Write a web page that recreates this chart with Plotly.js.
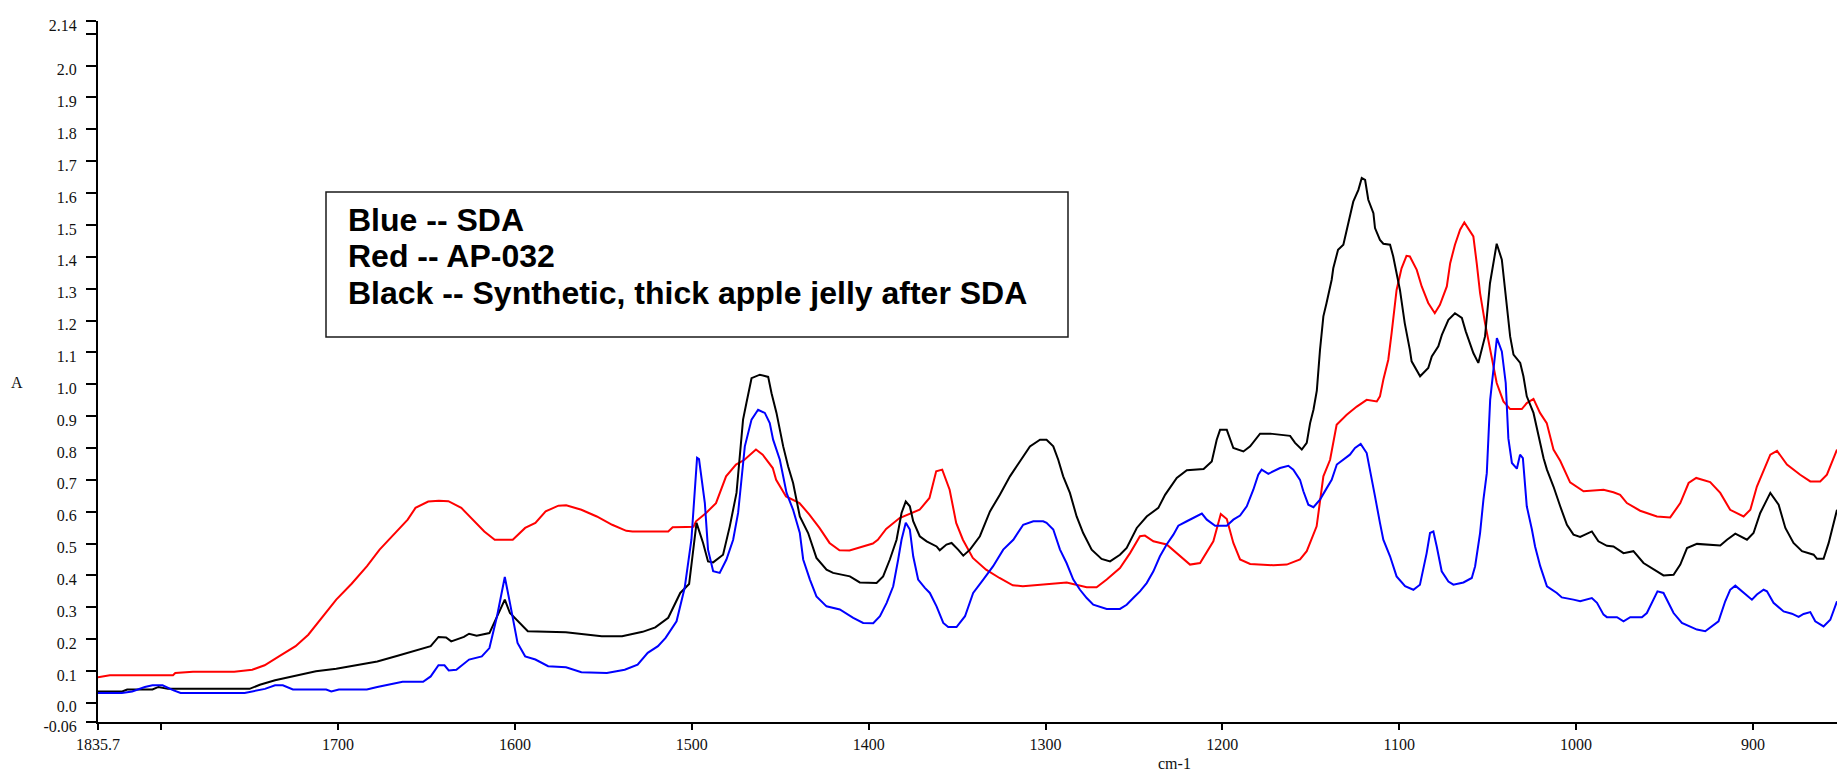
<!DOCTYPE html>
<html>
<head>
<meta charset="utf-8">
<script src="https://cdn.plot.ly/plotly-3.0.1.min.js"></script>
<style>
  html, body { margin: 0; padding: 0; background: #fff; }
  #chart { width: 1847px; height: 775px; }
</style>
</head>
<body>
<div id="chart"></div>
<script>
// ---------- data (wavenumber cm-1, absorbance A) ----------
const blueWavenumber = [1835.7,1822.2,1816.4,1809.2,1804.9,1799.2,1793.3,1789,1752.8,1748.5,1741.3,1735.6,1731.2,1725.5,1706.7,1703.8,1699.5,1683.7,1677.8,1663.5,1651.9,1647.6,1643.2,1639.8,1637.4,1633.1,1628.8,1625.9,1618.7,1614.4,1610.1,1605.7,1602.8,1598.5,1594.2,1588.4,1581.2,1571.1,1562.4,1548,1537.9,1530.6,1524.9,1519.1,1514.8,1508.6,1504,1500.2,1497,1495.9,1492.6,1490.8,1487.9,1484.2,1480.4,1476.6,1473.8,1471.9,1470,1466.2,1462.5,1458.7,1455.9,1454,1450.2,1446.4,1442.7,1438.9,1437,1433.2,1429.5,1423.8,1416.3,1408.7,1403.1,1397.4,1393.6,1389.8,1386.1,1383.3,1381.4,1379,1376.7,1374.8,1372,1368.2,1365.4,1361.6,1357.8,1355,1350.3,1345.5,1340.9,1335.2,1329.6,1323.9,1318.2,1312.6,1306.9,1301.3,1299.4,1295.6,1291.8,1288.1,1284.3,1280.5,1276.7,1273,1265.4,1257.9,1254.1,1250.4,1246.6,1242.8,1239,1235.3,1231.5,1227.7,1224.9,1220.1,1214.5,1211.6,1208.8,1204.1,1197.5,1193.8,1190,1186.2,1182.5,1179.7,1177.8,1174,1167.4,1162.7,1159.9,1156.1,1154.2,1151.4,1148.5,1144.8,1141,1138.2,1135.3,1131.6,1127.9,1125,1121.8,1118.4,1116.5,1113.7,1110.9,1109,1105.2,1101.5,1096.7,1092,1088.3,1084.5,1082.6,1080.7,1078.8,1076,1072.2,1069.4,1063.7,1059,1057.1,1054.3,1052.4,1050.5,1048.6,1044.8,1042,1039.8,1038.3,1036.3,1033.5,1031.7,1030.1,1027.9,1025,1023.2,1020.3,1016.5,1010.9,1008.1,1001.5,997.7,991.1,988.2,984.5,982.6,976.9,973.2,969.4,962.8,960,957.2,954,950.6,947.8,944.9,940.2,935.5,931.7,927,923.2,919.5,915.7,912.9,910,907.2,900.6,897.8,894,892.1,888.4,882.7,878,874.2,871.4,867.6,864.8,860.1,856.3,852.5];
const blueAbsorbance = [0.031,0.031,0.036,0.050,0.055,0.055,0.040,0.031,0.031,0.036,0.044,0.055,0.055,0.042,0.042,0.036,0.042,0.042,0.050,0.066,0.066,0.083,0.118,0.118,0.102,0.104,0.123,0.136,0.146,0.172,0.272,0.395,0.314,0.188,0.146,0.136,0.115,0.112,0.096,0.094,0.104,0.120,0.157,0.178,0.204,0.256,0.361,0.512,0.769,0.765,0.627,0.481,0.413,0.408,0.450,0.512,0.596,0.700,0.805,0.889,0.920,0.910,0.878,0.826,0.763,0.659,0.606,0.533,0.450,0.387,0.334,0.303,0.293,0.267,0.251,0.250,0.272,0.314,0.366,0.450,0.512,0.565,0.544,0.460,0.387,0.361,0.345,0.303,0.251,0.238,0.238,0.272,0.345,0.387,0.429,0.481,0.512,0.559,0.570,0.570,0.565,0.544,0.481,0.439,0.387,0.355,0.329,0.308,0.295,0.295,0.308,0.329,0.350,0.376,0.413,0.460,0.497,0.528,0.556,0.570,0.585,0.594,0.575,0.556,0.556,0.575,0.588,0.617,0.669,0.716,0.732,0.719,0.737,0.744,0.732,0.700,0.664,0.622,0.614,0.638,0.674,0.700,0.748,0.763,0.779,0.800,0.813,0.784,0.732,0.648,0.565,0.512,0.460,0.397,0.366,0.355,0.371,0.470,0.533,0.538,0.491,0.413,0.381,0.371,0.378,0.392,0.429,0.533,0.638,0.721,0.951,1.145,1.103,1.004,0.830,0.753,0.735,0.779,0.768,0.617,0.544,0.491,0.429,0.366,0.345,0.331,0.324,0.319,0.329,0.314,0.277,0.269,0.269,0.256,0.269,0.269,0.282,0.314,0.350,0.345,0.314,0.282,0.251,0.238,0.230,0.225,0.240,0.256,0.319,0.355,0.368,0.355,0.324,0.340,0.355,0.350,0.314,0.287,0.280,0.270,0.279,0.285,0.256,0.240,0.261,0.319];

const redWavenumber = [1835.7,1829,1793.3,1792,1782,1758.7,1748.5,1741.5,1732.7,1724,1716.8,1709.6,1701,1692.3,1683.6,1676.5,1667.8,1660.6,1656.2,1649,1643,1637.6,1630.3,1623,1617.3,1611.4,1601.2,1594.2,1588.4,1582.6,1575.4,1571,1562.4,1553.7,1545,1537,1533.5,1513.3,1510.8,1503.2,1499,1497.6,1491.9,1486.3,1480.6,1475,1470.2,1463.7,1459.9,1454.2,1452.3,1446.7,1439.1,1433.5,1427.8,1422.1,1416.5,1410.8,1403.3,1397.6,1394.8,1390.1,1382.5,1375,1371.2,1365.6,1361.8,1358.4,1354.2,1350.5,1346.7,1341.1,1333.6,1326,1318.5,1312.8,1303,1295.8,1288,1276.7,1271.1,1265.4,1257.9,1252.2,1246.6,1243.8,1239,1231.5,1224,1218.3,1212.6,1205.1,1200.9,1197.5,1193.8,1190,1184.3,1171.2,1163.6,1156.1,1152.3,1146.7,1142.9,1139.1,1135.4,1129.7,1124,1118.4,1112.7,1110.9,1109,1106.2,1104.3,1101.5,1098.7,1095.9,1094,1090.1,1087.3,1083.6,1079.9,1077,1073.1,1071.2,1068.5,1065.6,1063.2,1058.1,1056.2,1054.3,1051.5,1047.7,1044.9,1041.1,1037.3,1030.7,1027.9,1024.1,1020.4,1016.6,1014.7,1012.8,1009,1003.4,995.8,988.2,984.5,978.9,975.1,971.3,963.8,954.3,946.8,941.1,936.4,932.1,924.2,918.5,912.9,905.3,901.5,897.8,894,890.2,886.4,880.8,873.3,867.6,862,858.2,852.5];
const redAbsorbance = [0.080,0.087,0.087,0.094,0.098,0.098,0.104,0.118,0.148,0.178,0.214,0.263,0.324,0.374,0.429,0.481,0.533,0.575,0.612,0.632,0.634,0.633,0.612,0.570,0.538,0.512,0.512,0.549,0.565,0.601,0.619,0.620,0.606,0.585,0.559,0.540,0.538,0.538,0.551,0.552,0.553,0.570,0.596,0.627,0.711,0.748,0.763,0.795,0.779,0.737,0.700,0.648,0.627,0.591,0.549,0.502,0.479,0.478,0.491,0.500,0.512,0.546,0.580,0.596,0.606,0.643,0.727,0.732,0.669,0.565,0.512,0.455,0.418,0.392,0.369,0.366,0.371,0.374,0.378,0.363,0.363,0.387,0.423,0.470,0.523,0.525,0.507,0.497,0.460,0.434,0.439,0.507,0.593,0.577,0.502,0.450,0.436,0.432,0.434,0.450,0.476,0.554,0.711,0.763,0.873,0.904,0.930,0.951,0.946,0.962,1.014,1.077,1.161,1.296,1.364,1.403,1.401,1.359,1.307,1.255,1.223,1.249,1.307,1.380,1.438,1.485,1.508,1.464,1.380,1.286,1.192,1.087,1.004,0.946,0.922,0.922,0.941,0.954,0.910,0.878,0.836,0.795,0.760,0.692,0.664,0.667,0.669,0.661,0.653,0.627,0.603,0.585,0.582,0.627,0.690,0.706,0.693,0.659,0.606,0.585,0.606,0.679,0.732,0.779,0.791,0.748,0.716,0.695,0.695,0.716,0.795];

const blackWavenumber = [1835.7,1822,1819.2,1804.9,1801.5,1796.2,1750,1744.2,1735.6,1724,1712.5,1701,1689.4,1677.8,1666.3,1654.7,1647.6,1643.2,1638.9,1636,1628.8,1625.9,1621.6,1614.4,1610.1,1605.7,1602.8,1597,1592.7,1571.2,1562.4,1550.9,1539.4,1527.8,1520.6,1513.3,1506.5,1501.5,1497.3,1493.6,1490.8,1487.9,1482.3,1478.5,1474.7,1471,1469.1,1466.2,1461.5,1456.8,1454.9,1452.1,1448.3,1445.5,1442.7,1438.9,1434.2,1429.5,1423.8,1420.1,1410.6,1405,1395.5,1391.8,1388,1384.2,1381.4,1379,1376.7,1374.8,1371.1,1367.2,1361.6,1359.8,1356,1353.1,1349.4,1346.5,1342.7,1337.1,1331.4,1325.8,1320.1,1314.4,1308.8,1303.1,1299.4,1295.6,1292.8,1290,1286.2,1282.4,1278.7,1273.9,1268.3,1263.5,1257.9,1254.1,1248.4,1242.8,1236.2,1232.4,1225.8,1220.1,1210.6,1206,1203.2,1201.3,1197.5,1193.8,1188.1,1184.3,1178.7,1173,1161.7,1158.9,1155.1,1152.3,1150.4,1148.5,1146.6,1144.8,1142.9,1141.1,1138.2,1137.3,1134.6,1131.6,1129.7,1126,1123.1,1121.2,1119.3,1117.5,1114.6,1113.7,1110.9,1109,1105.2,1103.4,1099.6,1096.9,1094,1093,1088.2,1083.6,1081.6,1077.9,1075.9,1072.2,1068.5,1064.6,1062.4,1059.9,1058.1,1055.3,1051.5,1048.7,1044.9,1042,1039.8,1037.3,1035.4,1031.6,1029.8,1027.9,1024.1,1021.3,1018.4,1016.5,1012.8,1009,1005.2,1001.5,997.7,991.1,987.4,982.6,978.9,973.2,967.6,961.9,956.2,950.6,944.9,941.1,937.3,931.7,918.5,914.7,910,903.4,899.7,895.9,890.2,885.5,881.7,877.1,872.3,865.7,863.8,860.1,857.2,852.5];
const blackAbsorbance = [0.036,0.036,0.042,0.042,0.050,0.044,0.044,0.057,0.071,0.086,0.099,0.107,0.119,0.130,0.148,0.167,0.178,0.207,0.205,0.193,0.207,0.217,0.211,0.219,0.272,0.324,0.282,0.251,0.225,0.222,0.216,0.209,0.209,0.223,0.237,0.267,0.345,0.373,0.565,0.502,0.444,0.441,0.465,0.554,0.659,0.889,0.941,1.019,1.030,1.023,0.972,0.910,0.805,0.742,0.690,0.585,0.533,0.455,0.418,0.408,0.397,0.378,0.376,0.397,0.450,0.512,0.596,0.632,0.617,0.570,0.523,0.507,0.491,0.479,0.497,0.502,0.481,0.462,0.481,0.523,0.601,0.653,0.711,0.758,0.805,0.826,0.826,0.805,0.763,0.711,0.659,0.585,0.533,0.481,0.452,0.444,0.465,0.486,0.549,0.585,0.612,0.653,0.706,0.730,0.734,0.758,0.826,0.857,0.857,0.800,0.789,0.805,0.845,0.845,0.838,0.816,0.795,0.816,0.878,0.920,0.980,1.108,1.213,1.255,1.328,1.364,1.422,1.438,1.485,1.573,1.610,1.647,1.641,1.579,1.537,1.490,1.453,1.441,1.438,1.401,1.296,1.192,1.108,1.072,1.025,1.051,1.087,1.119,1.155,1.202,1.223,1.208,1.166,1.129,1.098,1.067,1.150,1.317,1.441,1.391,1.286,1.150,1.093,1.067,1.025,0.962,0.910,0.840,0.768,0.732,0.679,0.617,0.559,0.528,0.521,0.538,0.507,0.493,0.491,0.470,0.476,0.439,0.418,0.400,0.402,0.434,0.486,0.499,0.494,0.512,0.531,0.512,0.533,0.596,0.659,0.622,0.549,0.502,0.476,0.465,0.452,0.452,0.502,0.606];

const xTickValues = [1835.7, 1800, 1700, 1600, 1500, 1400, 1300, 1200, 1100, 1000, 900];
const xTickLabels = ['1835.7', '', '1700', '1600', '1500', '1400', '1300', '1200', '1100', '1000', '900'];
const yTickValues = [-0.06, 0.0, 0.1, 0.2, 0.3, 0.4, 0.5, 0.6, 0.7, 0.8, 0.9, 1.0, 1.1, 1.2, 1.3, 1.4, 1.5, 1.6, 1.7, 1.8, 1.9, 2.0, 2.1, 2.14];
const yTickLabels = ['-0.06', '0.0', '0.1', '0.2', '0.3', '0.4', '0.5', '0.6', '0.7', '0.8', '0.9', '1.0', '1.1', '1.2', '1.3', '1.4', '1.5', '1.6', '1.7', '1.8', '1.9', '2.0', '', '2.14'];
const legendLines = ['Blue -- SDA', 'Red -- AP-032', 'Black -- Synthetic, thick apple jelly after SDA'];

// ---------- chart ----------
const serif = 'Liberation Serif, Times New Roman, serif';
const traces = [
  { x: redWavenumber, y: redAbsorbance, name: 'AP-032', type: 'scatter', mode: 'lines', line: { color: '#ff0000', width: 2 } },
  { x: blackWavenumber, y: blackAbsorbance, name: 'Synthetic, thick apple jelly after SDA', type: 'scatter', mode: 'lines', line: { color: '#000000', width: 2 } },
  { x: blueWavenumber, y: blueAbsorbance, name: 'SDA', type: 'scatter', mode: 'lines', line: { color: '#0000ff', width: 2 } }
];

const legendY = [0.7158, 0.6645, 0.6123];
const annotations = legendLines.map((t, i) => ({
  xref: 'paper', yref: 'paper', x: 0.1426, y: legendY[i],
  xanchor: 'left', yanchor: 'middle', showarrow: false, text: t,
  font: { family: 'Liberation Sans, Arial, sans-serif', size: 32, weight: 'bold', color: '#000' }
}));
annotations.push({ xref: 'paper', yref: 'paper', x: -0.0466, y: 0.4836, xanchor: 'center', yanchor: 'middle', showarrow: false, text: 'A', font: { family: serif, size: 16, color: '#111' } });
annotations.push({ xref: 'paper', yref: 'paper', x: 0.6193, y: -0.0585, xanchor: 'center', yanchor: 'middle', showarrow: false, text: 'cm-1', font: { family: serif, size: 16, color: '#111' } });

const layout = {
  width: 1847, height: 775,
  margin: { l: 98, r: 10, t: 21, b: 53, pad: 0 },
  paper_bgcolor: '#ffffff', plot_bgcolor: '#ffffff',
  showlegend: false,
  xaxis: {
    range: [1835.7, 852.5], autorange: false,
    showline: true, linecolor: '#000', linewidth: 2,
    ticks: 'outside', ticklen: 6, tickwidth: 2, tickcolor: '#000',
    tickmode: 'array', tickvals: xTickValues, ticktext: xTickLabels,
    tickfont: { family: serif, size: 16, color: '#111' },
    ticklabelstandoff: 1,
    showgrid: false, zeroline: false
  },
  yaxis: {
    range: [-0.06, 2.14], autorange: false,
    showline: true, linecolor: '#000', linewidth: 2,
    ticks: 'outside', ticklen: 10, tickwidth: 2, tickcolor: '#000',
    tickmode: 'array', tickvals: yTickValues, ticktext: yTickLabels,
    tickfont: { family: serif, size: 16, color: '#111' },
    ticklabelstandoff: 6, ticklabelshift: 4,
    showgrid: false, zeroline: false
  },
  shapes: [{
    type: 'rect', xref: 'paper', yref: 'paper',
    x0: 0.13111, x1: 0.55779, y0: 0.54922, y1: 0.75606,
    line: { color: '#1a1a1a', width: 1.5 }, fillcolor: 'rgba(0,0,0,0)'
  }],
  annotations: annotations
};

Plotly.newPlot('chart', traces, layout, { staticPlot: true, displayModeBar: false });
</script>
</body>
</html>
